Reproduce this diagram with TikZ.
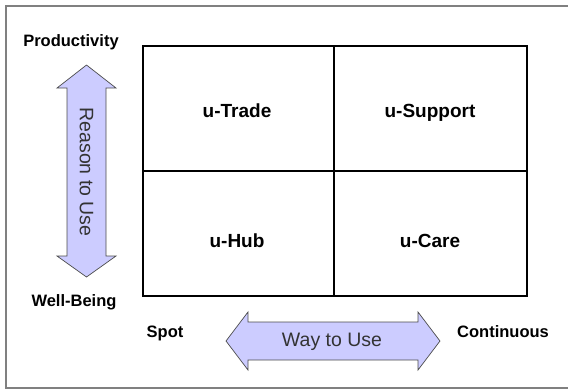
\documentclass[tikz,border=0pt]{standalone}
\usepackage{fontspec}
\setmainfont{Liberation Sans}
\definecolor{arrowfill}{HTML}{CCCCFF}
\definecolor{framegray}{HTML}{808080}
\definecolor{arrowtext}{HTML}{333333}
\begin{document}
\begin{tikzpicture}[x=1pt,y=-1pt,
  axislabel/.style={font=\bfseries\fontsize{16.5}{18}\selectfont, inner sep=0pt, anchor=base},
  celllabel/.style={font=\bfseries\fontsize{19}{21}\selectfont, inner sep=0pt, anchor=base},
  arrowlabel/.style={font=\fontsize{19.5}{21}\selectfont, text=arrowtext, inner sep=0pt},
  bigarrow/.style={fill=arrowfill, draw=black!70, line width=0.7pt, line join=miter},
  gridline/.style={line width=2pt, draw=black}]
\useasboundingbox (0,0) rectangle (568,389);
% outer frame
\draw[framegray, line width=1.5pt] (568,6) -- (6,6) -- (6,388) -- (568,388);
% grid
\coordinate (tl) at (143,46);
\coordinate (br) at (527,296);
\draw[gridline] (tl) rectangle (br);
\draw[gridline] (334,46) -- (334,296);
\draw[gridline] (143,171) -- (527,171);
% cell labels
\node[celllabel] (trade) at (237,117) {u-Trade};
\node[celllabel] (support) at (430,117) {u-Support};
\node[celllabel] (hub) at (237,247) {u-Hub};
\node[celllabel] (care) at (430,247) {u-Care};
% axis labels
\node[axislabel] (prod) at (71,46) {Productivity};
\node[axislabel] (well) at (74,306) {Well-Being};
\node[axislabel] (spot) at (165,337) {Spot};
\node[axislabel] (cont) at (503,337) {Continuous};
% vertical arrow
\draw[bigarrow] (86.5,65) -- (116,88) -- (106,88) -- (106,256) -- (116,256) -- (86.5,277)
  -- (57,256) -- (67,256) -- (67,88) -- (57,88) -- cycle;
\node[arrowlabel, rotate=-90] (reason) at (86.5,172) {Reason to Use};
% horizontal arrow
\draw[bigarrow] (226,341) -- (248,312) -- (248,322) -- (418,322) -- (418,312) -- (440,341)
  -- (418,370) -- (418,360) -- (248,360) -- (248,370) -- cycle;
\node[arrowlabel] (way) at (332,342) {Way to Use};
\end{tikzpicture}
\end{document}
